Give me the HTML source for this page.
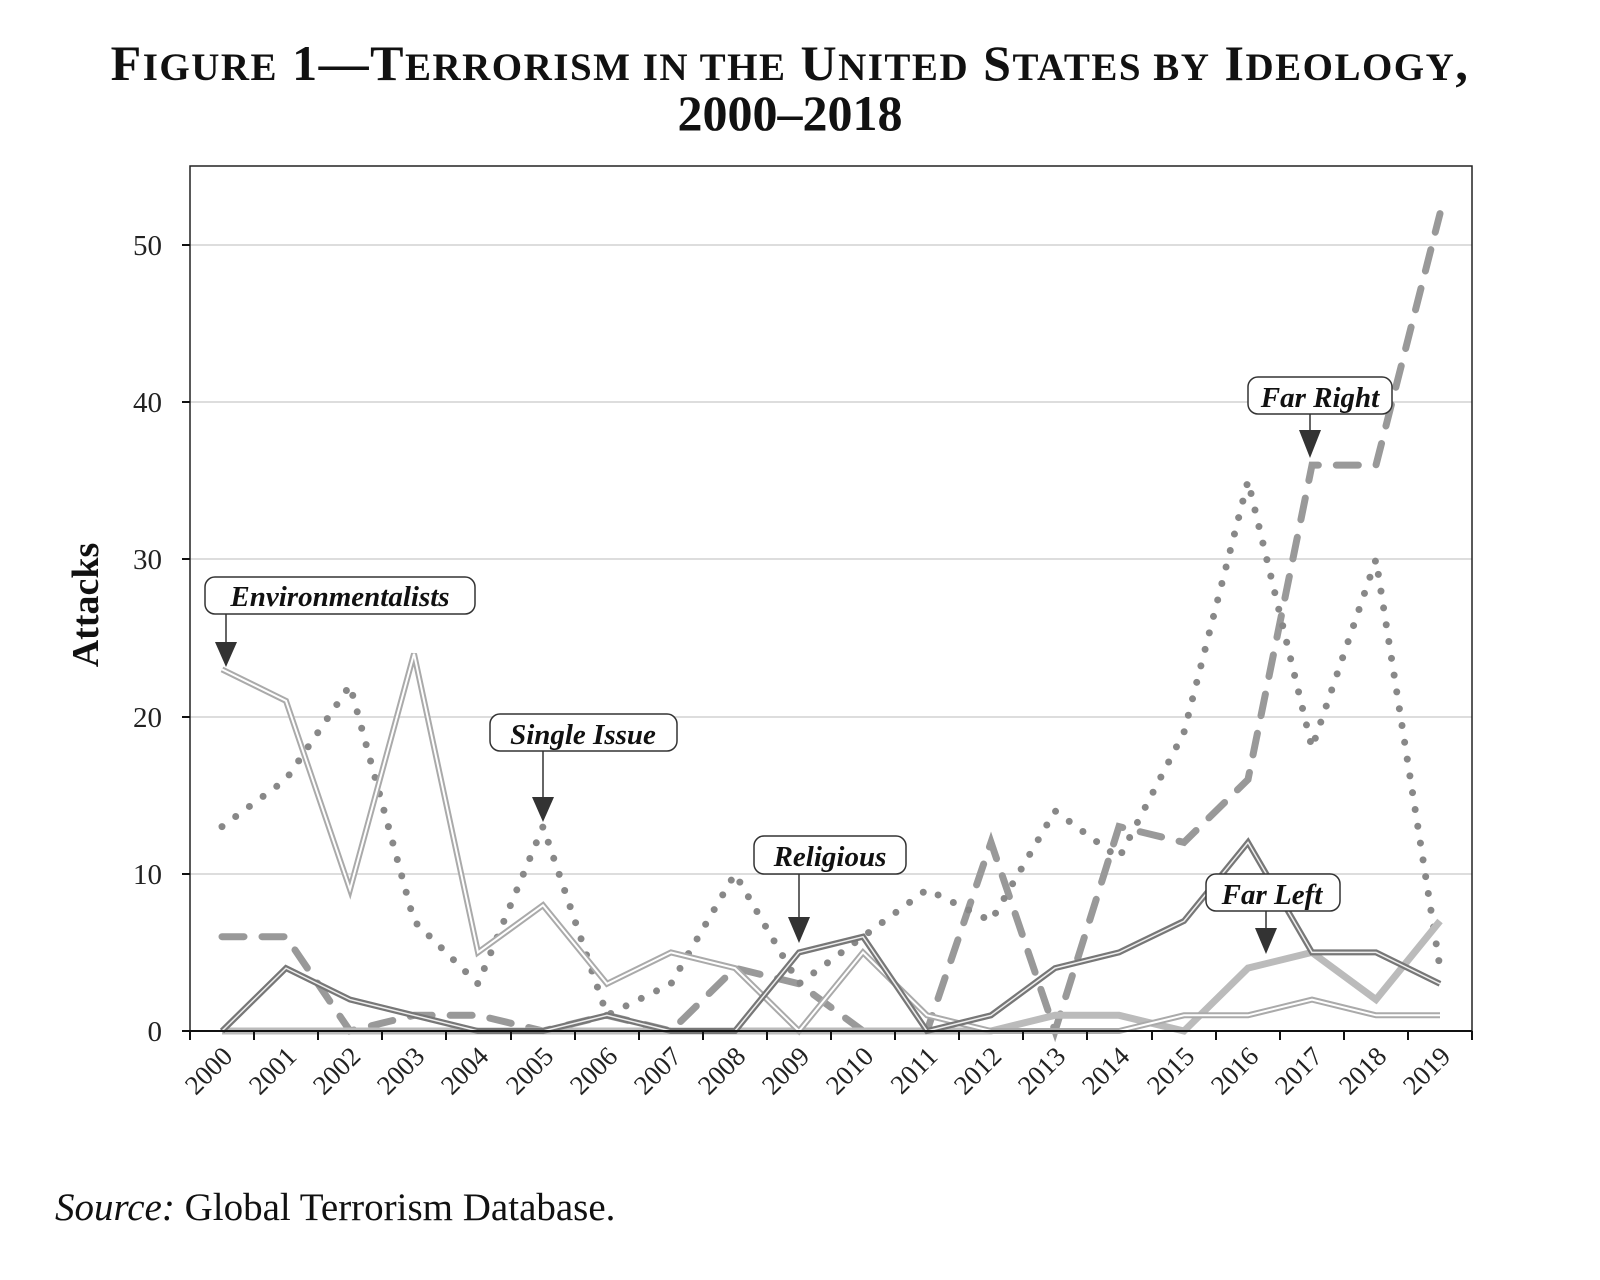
<!DOCTYPE html>
<html><head><meta charset="utf-8"><style>
body{margin:0;background:#fff;width:1600px;height:1275px;overflow:hidden}
</style></head><body>
<svg width="1600" height="1275" xmlns="http://www.w3.org/2000/svg" font-family="Liberation Serif, serif">
<text x="790" y="80" text-anchor="middle" font-size="50" font-weight="bold" fill="#111" letter-spacing="1.5">F<tspan font-size="39">IGURE</tspan> 1—T<tspan font-size="39">ERRORISM IN THE</tspan> U<tspan font-size="39">NITED</tspan> S<tspan font-size="39">TATES BY</tspan> I<tspan font-size="39">DEOLOGY</tspan>,</text>
<text x="790" y="130" text-anchor="middle" font-size="50" font-weight="bold" fill="#111">2000–2018</text>
<g stroke="#ddd" stroke-width="2">
<line x1="190" y1="245" x2="1472" y2="245"/><line x1="190" y1="402" x2="1472" y2="402"/><line x1="190" y1="559" x2="1472" y2="559"/><line x1="190" y1="717" x2="1472" y2="717"/><line x1="190" y1="874" x2="1472" y2="874"/>
</g>
<rect x="190" y="166" width="1282" height="865" fill="none" stroke="#222" stroke-width="1.5"/>
<g stroke="#111" stroke-width="2">
<line x1="182" y1="245" x2="190" y2="245"/><line x1="182" y1="402" x2="190" y2="402"/><line x1="182" y1="559" x2="190" y2="559"/><line x1="182" y1="717" x2="190" y2="717"/><line x1="182" y1="874" x2="190" y2="874"/><line x1="182" y1="1031" x2="190" y2="1031"/>
</g>
<g font-size="29" fill="#222" text-anchor="end">
<text x="162" y="255">50</text><text x="162" y="412">40</text><text x="162" y="569">30</text><text x="162" y="727">20</text><text x="162" y="884">10</text><text x="162" y="1041">0</text>
</g>
<text transform="translate(98,605) rotate(-90)" text-anchor="middle" font-size="38" font-weight="bold" fill="#111">Attacks</text>
<polyline fill="none" stroke="#999" stroke-width="7" stroke-dasharray="22,18" stroke-linecap="round" points="222,936.7 286,936.7 350,1031 414,1015.3 478,1015.3 543,1031 607,1015.3 671,1031 735,968.1 799,983.8 863,1031 927,1031 991,842.4 1055,1031 1119,826.6 1184,842.4 1248,779.5 1312,465.1 1376,465.1 1440,213.6"/>
<polyline fill="none" stroke="#888" stroke-width="7" stroke-dasharray="0,17" stroke-linecap="round" points="222,826.6 286,779.5 350,685.2 414,921 478,983.8 543,826.6 607,1015.3 671,983.8 735,873.8 799,983.8 863,936.7 927,889.5 991,921 1055,810.9 1119,858.1 1184,732.3 1248,480.8 1312,748 1376,559.4 1440,968.1"/>
<polyline fill="none" stroke="#bbb" stroke-width="7" points="222,1031 286,1031 350,1031 414,1031 478,1031 543,1031 607,1031 671,1031 735,1031 799,1031 863,1031 927,1031 991,1031 1055,1015.3 1119,1015.3 1184,1031 1248,968.1 1312,952.4 1376,999.6 1440,921"/>
<g fill="none" stroke-linejoin="miter">
<polyline stroke="#aaa" stroke-width="6" points="222,669.4 286,700.9 350,889.5 414,653.7 478,952.4 543,905.2 607,983.8 671,952.4 735,968.1 799,1031 863,952.4 927,1015.3 991,1031 1055,1031 1119,1031 1184,1015.3 1248,1015.3 1312,999.6 1376,1015.3 1440,1015.3"/>
<polyline stroke="#fff" stroke-width="2" points="222,669.4 286,700.9 350,889.5 414,653.7 478,952.4 543,905.2 607,983.8 671,952.4 735,968.1 799,1031 863,952.4 927,1015.3 991,1031 1055,1031 1119,1031 1184,1015.3 1248,1015.3 1312,999.6 1376,1015.3 1440,1015.3"/>
<polyline stroke="#777" stroke-width="6" points="222,1031 286,968.1 350,999.6 414,1015.3 478,1031 543,1031 607,1015.3 671,1031 735,1031 799,952.4 863,936.7 927,1031 991,1015.3 1055,968.1 1119,952.4 1184,921 1248,842.4 1312,952.4 1376,952.4 1440,983.8"/>
<polyline stroke="#eee" stroke-width="1.5" points="222,1031 286,968.1 350,999.6 414,1015.3 478,1031 543,1031 607,1015.3 671,1031 735,1031 799,952.4 863,936.7 927,1031 991,1015.3 1055,968.1 1119,952.4 1184,921 1248,842.4 1312,952.4 1376,952.4 1440,983.8"/>
</g>
<line x1="190" y1="1031" x2="1472" y2="1031" stroke="#111" stroke-width="2"/>
<g stroke="#111" stroke-width="2">
<line x1="190" y1="1031" x2="190" y2="1040"/><line x1="254" y1="1031" x2="254" y2="1040"/><line x1="318" y1="1031" x2="318" y2="1040"/><line x1="382" y1="1031" x2="382" y2="1040"/><line x1="446" y1="1031" x2="446" y2="1040"/><line x1="511" y1="1031" x2="511" y2="1040"/><line x1="575" y1="1031" x2="575" y2="1040"/><line x1="639" y1="1031" x2="639" y2="1040"/><line x1="703" y1="1031" x2="703" y2="1040"/><line x1="767" y1="1031" x2="767" y2="1040"/><line x1="831" y1="1031" x2="831" y2="1040"/><line x1="895" y1="1031" x2="895" y2="1040"/><line x1="959" y1="1031" x2="959" y2="1040"/><line x1="1023" y1="1031" x2="1023" y2="1040"/><line x1="1087" y1="1031" x2="1087" y2="1040"/><line x1="1152" y1="1031" x2="1152" y2="1040"/><line x1="1216" y1="1031" x2="1216" y2="1040"/><line x1="1280" y1="1031" x2="1280" y2="1040"/><line x1="1344" y1="1031" x2="1344" y2="1040"/><line x1="1408" y1="1031" x2="1408" y2="1040"/><line x1="1472" y1="1031" x2="1472" y2="1040"/>
</g>
<g font-size="27" fill="#222" text-anchor="end">
<text transform="translate(234,1058) rotate(-45)">2000</text><text transform="translate(298,1058) rotate(-45)">2001</text><text transform="translate(362,1058) rotate(-45)">2002</text><text transform="translate(426,1058) rotate(-45)">2003</text><text transform="translate(490,1058) rotate(-45)">2004</text><text transform="translate(555,1058) rotate(-45)">2005</text><text transform="translate(619,1058) rotate(-45)">2006</text><text transform="translate(683,1058) rotate(-45)">2007</text><text transform="translate(747,1058) rotate(-45)">2008</text><text transform="translate(811,1058) rotate(-45)">2009</text><text transform="translate(875,1058) rotate(-45)">2010</text><text transform="translate(939,1058) rotate(-45)">2011</text><text transform="translate(1003,1058) rotate(-45)">2012</text><text transform="translate(1067,1058) rotate(-45)">2013</text><text transform="translate(1131,1058) rotate(-45)">2014</text><text transform="translate(1196,1058) rotate(-45)">2015</text><text transform="translate(1260,1058) rotate(-45)">2016</text><text transform="translate(1324,1058) rotate(-45)">2017</text><text transform="translate(1388,1058) rotate(-45)">2018</text><text transform="translate(1452,1058) rotate(-45)">2019</text>
</g>
<g font-size="29" font-style="italic" font-weight="bold" fill="#111" stroke-width="1.5">
<line x1="226" y1="612" x2="226" y2="645" stroke="#333"/><polygon points="215,642 237,642 226,667" fill="#333"/>
<rect x="205" y="577" width="270" height="37" rx="10" fill="#fff" stroke="#333"/><text x="340" y="606" text-anchor="middle">Environmentalists</text>
<line x1="543" y1="750" x2="543" y2="800" stroke="#333"/><polygon points="532,797 554,797 543,822" fill="#333"/>
<rect x="490" y="714" width="187" height="37" rx="10" fill="#fff" stroke="#333"/><text x="583" y="744" text-anchor="middle">Single Issue</text>
<line x1="799" y1="874" x2="799" y2="920" stroke="#333"/><polygon points="788,917 810,917 799,943" fill="#333"/>
<rect x="754" y="836" width="152" height="38" rx="10" fill="#fff" stroke="#333"/><text x="830" y="866" text-anchor="middle">Religious</text>
<line x1="1266" y1="910" x2="1266" y2="932" stroke="#333"/><polygon points="1255,928 1277,928 1266,954" fill="#333"/>
<rect x="1206" y="874" width="134" height="37" rx="10" fill="#fff" stroke="#333"/><text x="1272" y="904" text-anchor="middle">Far Left</text>
<line x1="1310" y1="413" x2="1310" y2="434" stroke="#333"/><polygon points="1299,430 1321,430 1310,458" fill="#333"/>
<rect x="1248" y="377" width="144" height="37" rx="10" fill="#fff" stroke="#333"/><text x="1320" y="407" text-anchor="middle">Far Right</text>
</g>
<text x="55" y="1220" font-size="39" fill="#111"><tspan font-style="italic">Source:</tspan> Global Terrorism Database.</text>
</svg>
</body></html>
